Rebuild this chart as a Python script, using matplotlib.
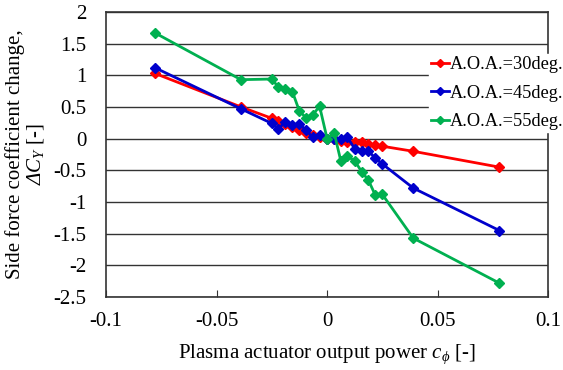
import matplotlib
matplotlib.use("Agg")
import matplotlib.pyplot as plt
from matplotlib.lines import Line2D

plt.rcParams['font.family'] = ['Liberation Serif', 'DejaVu Serif']
plt.rcParams['mathtext.fontset'] = 'custom'
plt.rcParams['mathtext.rm'] = 'Liberation Serif:italic'
plt.rcParams['mathtext.it'] = 'Liberation Serif:italic'
plt.rcParams['mathtext.fallback'] = 'stix'

x_vals = [-0.078, -0.039, -0.025, -0.022, -0.019, -0.0157, -0.0126, -0.0096, -0.0066, -0.0034,
          0.0, 0.0032, 0.0062, 0.0092, 0.0125, 0.0156, 0.0186, 0.0218, 0.025, 0.039, 0.078]

aoa30 = [1.03, 0.50, 0.32, 0.28, 0.23, 0.19, 0.14, 0.09, 0.05, 0.03,
         0.0, -0.01, -0.03, -0.05, -0.05, -0.06, -0.08, -0.10, -0.12, -0.20, -0.45]
aoa45 = [1.12, 0.47, 0.24, 0.15, 0.27, 0.21, 0.23, 0.14, 0.02, 0.05,
         0.0, 0.0, -0.01, 0.02, -0.16, -0.19, -0.19, -0.31, -0.40, -0.78, -1.45]
aoa55 = [1.67, 0.93, 0.94, 0.81, 0.78, 0.74, 0.44, 0.33, 0.37, 0.51,
         0.0, 0.09, -0.35, -0.28, -0.35, -0.52, -0.65, -0.89, -0.88, -1.57, -2.28]

labels = ['A.O.A.=30deg.', 'A.O.A.=45deg.', 'A.O.A.=55deg.']
colors = ['#FF0000', '#0000CC', '#00B050']
series = [aoa30, aoa45, aoa55]

xticks = [-0.1, -0.05, 0, 0.05, 0.1]
xticklabels = ['-0.1', '-0.05', '0', '0.05', '0.1']
yticks = [2, 1.5, 1, 0.5, 0, -0.5, -1, -1.5, -2, -2.5]
yticklabels = ['2', '1.5', '1', '0.5', '0', '-0.5', '-1', '-1.5', '-2', '-2.5']

fs = 15
fig = plt.figure(figsize=(5.63, 3.70), dpi=100)
ax = fig.add_axes([0.1885, 0.197, 0.785, 0.771])

for ys, c, lab in zip(series, colors, labels):
    ax.plot(x_vals, ys, color=c, lw=2, marker='D', ms=5, mec=c, mfc=c, label=lab, zorder=3)

ax.set_xlim(-0.1, 0.1)
ax.set_ylim(-2.5, 2)
ax.set_xticks(xticks)
ax.set_xticklabels(xticklabels)
ax.set_yticks(yticks)
ax.set_yticklabels(yticklabels)
ax.yaxis.grid(True, color='#333333', lw=1.0)
ax.set_axisbelow(True)
ax.tick_params(axis='x', direction='in', length=5, labelsize=fs, pad=11, color='#333333')
ax.tick_params(axis='y', direction='in', length=0, labelsize=fs, pad=14)
for s in ax.spines.values():
    s.set_color('#333333')
    s.set_linewidth(1.2)

ax.set_xlabel(r'Plasma actuator output power $c_\phi$ [-]', fontsize=fs, labelpad=8)
ax.set_ylabel('Side force coefficient change,\n' + r'$\Delta C_Y$ [-]', fontsize=fs,
              linespacing=1.05)
ax.yaxis.set_label_coords(-0.135, 0.5)

handles = [Line2D([0], [0], color=c, lw=2, marker='D', ms=4, mec=c, mfc=c) for c in colors]
leg = fig.legend(handles, labels, loc='upper left', bbox_to_anchor=(0.762, 0.853),
                 frameon=True, fontsize=13.2, handlelength=1.0, handletextpad=0.05,
                 borderpad=0.1, labelspacing=0.62, borderaxespad=0)
leg.get_frame().set_facecolor('white')
leg.get_frame().set_edgecolor('white')
leg.get_frame().set_alpha(1)
leg.get_frame().set_boxstyle('square', pad=0)

fig.savefig('out.png', dpi=100)
